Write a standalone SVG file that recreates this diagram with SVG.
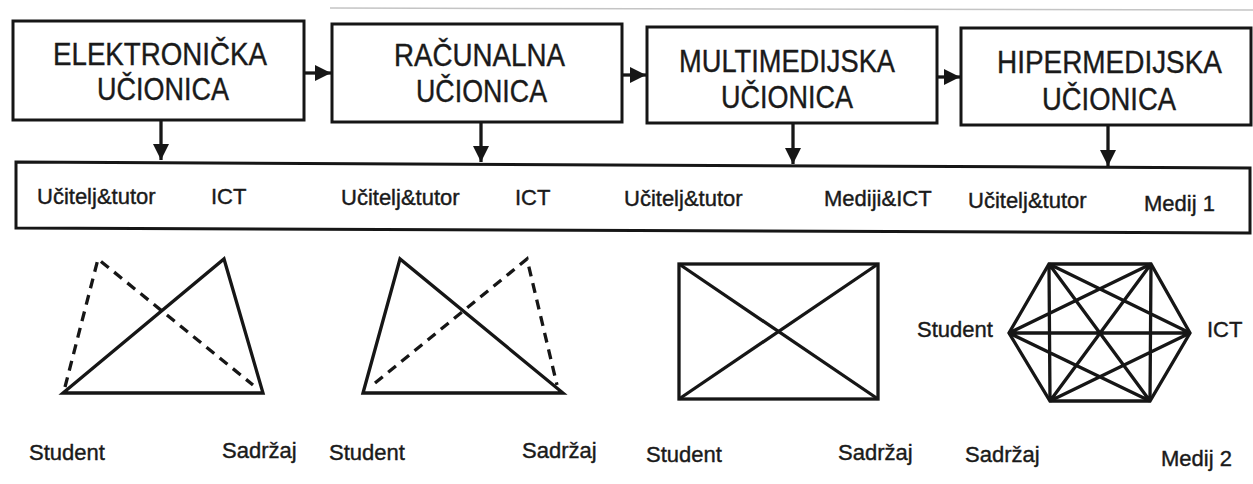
<svg xmlns="http://www.w3.org/2000/svg" width="1253" height="484" viewBox="0 0 1253 484">
<defs>
<style>
.box{fill:#fff;stroke:#161616;stroke-width:3}
.ln{fill:none;stroke:#161616;stroke-width:3.3;stroke-linejoin:miter}
.dash{fill:none;stroke:#161616;stroke-width:3.3;stroke-dasharray:10 7}
.title{font-family:"Liberation Sans",Arial,sans-serif;font-size:32px;fill:#1a1a1a;stroke:#1a1a1a;stroke-width:0.4}
.lbl{font-family:"Liberation Sans",Arial,sans-serif;font-size:22px;fill:#1a1a1a;stroke:#1a1a1a;stroke-width:0.4}
</style>
<marker id="ah" viewBox="0 0 10 10" refX="10" refY="5" markerWidth="5" markerHeight="5" markerUnits="strokeWidth" orient="auto">
<path d="M0,0 L10,5 L0,10 Z" fill="#161616"/>
</marker>
</defs>
<rect width="1253" height="484" fill="#fff"/>
<line x1="330" y1="8" x2="1253" y2="10" stroke="#c4c4c4" stroke-width="1.5"/>

<g id="n1">
<rect class="box" x="13" y="21" width="291" height="99"/>
<text class="title" x="53" y="65" textLength="214" lengthAdjust="spacingAndGlyphs">ELEKTRONIČKA</text>
<text class="title" x="97" y="100" textLength="132" lengthAdjust="spacingAndGlyphs">UČIONICA</text>
</g>
<g id="n2">
<rect class="box" x="332" y="24" width="290" height="98"/>
<text class="title" x="394" y="66" textLength="171" lengthAdjust="spacingAndGlyphs">RAČUNALNA</text>
<text class="title" x="416" y="102" textLength="131" lengthAdjust="spacingAndGlyphs">UČIONICA</text>
</g>
<g id="n3">
<rect class="box" x="647" y="27" width="290" height="96"/>
<text class="title" x="679" y="72" textLength="216" lengthAdjust="spacingAndGlyphs">MULTIMEDIJSKA</text>
<text class="title" x="721" y="108" textLength="132" lengthAdjust="spacingAndGlyphs">UČIONICA</text>
</g>
<g id="n4">
<rect class="box" x="961" y="28" width="290" height="97"/>
<text class="title" x="997" y="73" textLength="225" lengthAdjust="spacingAndGlyphs">HIPERMEDIJSKA</text>
<text class="title" x="1042" y="110" textLength="134" lengthAdjust="spacingAndGlyphs">UČIONICA</text>
</g>

<g id="row">
<polygon class="box" points="16,162 1250,168 1250,233 16,228"/>
<text class="lbl" x="37" y="204">Učitelj&amp;tutor</text>
<text class="lbl" x="211" y="204">ICT</text>
<text class="lbl" x="341" y="205">Učitelj&amp;tutor</text>
<text class="lbl" x="515" y="205">ICT</text>
<text class="lbl" x="624" y="206">Učitelj&amp;tutor</text>
<text class="lbl" x="824" y="206">Mediji&amp;ICT</text>
<text class="lbl" x="968" y="208">Učitelj&amp;tutor</text>
<text class="lbl" x="1144" y="211">Medij 1</text>
</g>

<g id="connectors">
<line class="ln" x1="304" y1="73" x2="331" y2="73" marker-end="url(#ah)"/>
<line class="ln" x1="622" y1="75" x2="646" y2="75" marker-end="url(#ah)"/>
<line class="ln" x1="937" y1="77" x2="960" y2="77" marker-end="url(#ah)"/>
<line class="ln" x1="161" y1="120" x2="161" y2="160" marker-end="url(#ah)"/>
<line class="ln" x1="481" y1="122" x2="481" y2="162" marker-end="url(#ah)"/>
<line class="ln" x1="793" y1="123" x2="793" y2="164" marker-end="url(#ah)"/>
<line class="ln" x1="1108" y1="125" x2="1108" y2="166" marker-end="url(#ah)"/>
</g>

<g id="d1">
<polyline class="dash" points="65,387 98,259 253,385"/>
<polygon class="ln" points="63,393 224,259 263,393"/>
<text class="lbl" x="29" y="460">Student</text>
<text class="lbl" x="222" y="458">Sadržaj</text>
</g>
<g id="d2">
<polyline class="dash" points="375,383 527,259 557,385"/>
<polygon class="ln" points="363,393 400,259 563,393"/>
<text class="lbl" x="329" y="460">Student</text>
<text class="lbl" x="522" y="458">Sadržaj</text>
</g>
<g id="d3">
<rect class="ln" x="679" y="264" width="199" height="135"/>
<line class="ln" x1="679" y1="264" x2="878" y2="399"/>
<line class="ln" x1="878" y1="264" x2="679" y2="399"/>
<text class="lbl" x="646" y="462">Student</text>
<text class="lbl" x="838" y="460">Sadržaj</text>
</g>
<g id="d4">
<polygon class="ln" points="1049,264 1151,264 1190,333 1150,401 1050,401 1009,333"/>
<path class="ln" d="M1049,264 L1190,333 M1049,264 L1150,401 M1049,264 L1050,401 M1151,264 L1050,401 M1151,264 L1009,333 M1151,264 L1150,401 M1190,333 L1050,401 M1190,333 L1009,333 M1150,401 L1009,333"/>
<text class="lbl" x="917" y="337">Student</text>
<text class="lbl" x="1207" y="337">ICT</text>
<text class="lbl" x="965" y="462">Sadržaj</text>
<text class="lbl" x="1161" y="466">Medij 2</text>
</g>
</svg>
